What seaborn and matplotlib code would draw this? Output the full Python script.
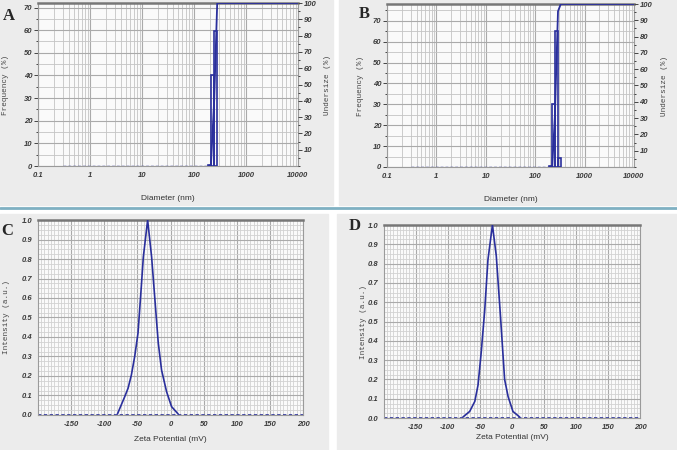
import numpy as np
import matplotlib
matplotlib.use("Agg")
import matplotlib.pyplot as plt
from matplotlib.patches import Rectangle
from matplotlib.ticker import MultipleLocator, LogLocator, NullFormatter
import seaborn as sns

# ---- data ----
# size distributions (bin edges in nm, frequency in %)
a_edges = [190, 212, 245, 280]
a_freq = [0.5, 40, 59.5]
b_edges = [195, 222, 250, 290, 330]
b_freq = [0.5, 30, 65, 4.5]
size_start = 0.3  # first size class shown by the instrument
size_ticks = [0.1, 1, 10, 100, 1000, 10000]
size_labels = ["0.1", "1", "10", "100", "1000", "10000"]

# zeta potential curves (mV, normalised intensity)
c_zeta = [-200, -80, -69, -64, -59, -54, -49, -44, -41, -34.5, -28.5, -23.5, -18.5, -13.5, -6, 1.5, 11.5, 200]
c_int = [0, 0.005, 0.094, 0.137, 0.205, 0.30, 0.42, 0.66, 0.81, 1.0, 0.81, 0.59, 0.37, 0.23, 0.12, 0.043, 0.005, 0]
d_zeta = [-200, -76.5, -66, -58, -53, -48, -42.5, -37.5, -30.5, -24.5, -18, -11.5, -6, 1.5, 12, 200]
d_int = [0, 0.005, 0.034, 0.086, 0.17, 0.34, 0.56, 0.82, 1.0, 0.84, 0.53, 0.20, 0.11, 0.034, 0.005, 0]
zeta_ticks = [-150, -100, -50, 0, 50, 100, 150, 200]

blue = "#2a2f9c"
sns.set_style("whitegrid")
plt.rcParams["font.family"] = ["Liberation Sans", "DejaVu Sans"]

fig = plt.figure(figsize=(6.77, 4.5), dpi=100)
fig.patch.set_facecolor("white")
# grey panel backgrounds and the separator line
for x0, y0, w, h in [(0, 0.545, 0.492, 0.455), (0.5, 0.545, 0.5, 0.455),
                     (0, 0, 0.484, 0.525), (0.498, 0, 0.502, 0.525)]:
    fig.patches.append(Rectangle((x0, y0), w, h, transform=fig.transFigure,
                                 color="#ececec", zorder=-10))
fig.add_artist(plt.Line2D([0, 1], [0.538, 0.538], transform=fig.transFigure,
                          color="#7fb0c2", lw=2))

tick_kw = dict(fontstyle="italic", fontweight="bold", fontsize=5.5, color="#3a3a3a")
mono = ["Liberation Mono", "DejaVu Sans Mono"]


def style_axes(ax, minor_col="#d2d2d2"):
    ax.set_facecolor("#fafafa")
    for s in ax.spines.values():
        s.set_color("#9a9a9a")
        s.set_linewidth(0.8)
    ax.spines["top"].set_color("#777777")
    ax.spines["top"].set_linewidth(1.8)
    ax.tick_params(which="both", direction="out", length=3, width=0.7,
                   color="#444444", pad=1)
    ax.tick_params(which="minor", length=1.5)
    ax.grid(which="major", color="#aaaaaa", lw=0.8)
    ax.grid(which="minor", color=minor_col, lw=0.6)


def size_panel(rect, edges, freq, ytop, letter, lx, ly, ycoords):
    ax = fig.add_axes(rect)
    ax.set_xscale("log")
    style_axes(ax, minor_col="#c4c4c4")
    ax.set_xlim(0.1, 10000)
    ax.set_ylim(0, ytop)
    ax.xaxis.set_minor_locator(LogLocator(base=10, subs=np.arange(2, 10)))
    ax.xaxis.set_minor_formatter(NullFormatter())
    ax.set_xticks(size_ticks, size_labels, **tick_kw)
    yt = list(range(0, int(ytop) // 10 * 10 + 1, 10))
    ax.set_yticks(yt, [str(v) for v in yt], **tick_kw)
    ax.yaxis.set_minor_locator(MultipleLocator(5))
    ax.bar(edges[:-1], freq, width=np.diff(edges), align="edge", fill=False,
           edgecolor=blue, lw=1.2, zorder=3)
    sns.lineplot(x=[size_start, edges[0]], y=[0, 0], ax=ax, color=blue,
                 lw=1, linestyle=(0, (2, 1.5)), zorder=3)
    # cumulative undersize on the right axis
    cum = np.concatenate([[0], np.cumsum(freq)])
    cum = np.clip(cum / cum[-1] * 100, 0, 100)
    ax2 = ax.twinx()
    ax2.set_ylim(0, 100)
    ax2.grid(False)
    for s in ax2.spines.values():
        s.set_visible(False)
    ax2.set_yticks(range(10, 101, 10), [str(v) for v in range(10, 101, 10)], **tick_kw)
    ax2.yaxis.set_minor_locator(MultipleLocator(5))
    ax2.tick_params(which="both", direction="out", length=3, width=0.7,
                    color="#444444", pad=1)
    ax2.tick_params(which="minor", length=1.5)
    sns.lineplot(x=list(edges) + [10000], y=list(cum) + [100], ax=ax2,
                 color=blue, lw=1.3, sort=False, estimator=None)
    ax.set_xlabel("Diameter (nm)", fontsize=6, color="#333333")
    ax.xaxis.set_label_coords(0.5, ycoords[0])
    ax.set_ylabel("Frequency (%)", fontsize=5.5, family=mono, color="#444444")
    ax.yaxis.set_label_coords(ycoords[1], 0.5)
    ax2.set_ylabel("Undersize (%)", fontsize=5.5, family=mono, color="#444444",
                   rotation=90, va="center")
    ax2.yaxis.set_label_coords(ycoords[2], 0.5)
    fig.text(lx, ly, letter, family=["Liberation Serif"], fontweight="bold",
             fontsize=12, ha="center", va="center")


def zeta_panel(rect, zeta, inten, letter, lx, ly, ycoords):
    ax = fig.add_axes(rect)
    style_axes(ax)
    ax.set_xlim(-200, 200)
    ax.set_ylim(0, 1.0)
    ax.set_xticks(zeta_ticks, [str(v) for v in zeta_ticks], **tick_kw)
    ax.xaxis.set_minor_locator(MultipleLocator(5))
    yt = np.round(np.arange(0, 1.01, 0.1), 1)
    ax.set_yticks(yt, ["%.1f" % v for v in yt], **tick_kw)
    ax.yaxis.set_minor_locator(MultipleLocator(0.025))
    ax.tick_params(axis="x", which="minor", length=0)
    ax.tick_params(axis="y", which="minor", length=0)
    sns.lineplot(x=zeta[1:-1], y=inten[1:-1], ax=ax, color=blue, lw=1.2,
                 sort=False, estimator=None, zorder=3)
    sns.lineplot(x=[zeta[0], zeta[-1]], y=[0, 0], ax=ax, color=blue, lw=1.2,
                 linestyle=(0, (2, 1.5)), zorder=2)
    ax.set_xlabel("Zeta Potential (mV)", fontsize=6, color="#333333")
    ax.xaxis.set_label_coords(0.5, ycoords[0])
    ax.set_ylabel("Intensity (a.u.)", fontsize=5.5, family=mono, color="#444444")
    ax.yaxis.set_label_coords(ycoords[1], 0.5)
    fig.text(lx, ly, letter, family=["Liberation Serif"], fontweight="bold",
             fontsize=12, ha="center", va="center")


size_panel([0.0561, 0.6311, 0.3840, 0.3622], a_edges, a_freq, 72, "A",
           9 / 677, 1 - 15.5 / 450, (-0.18, -0.113, 1.115))
size_panel([0.5716, 0.6289, 0.3648, 0.3622], b_edges, b_freq, 78, "B",
           364 / 677, 1 - 14 / 450, (-0.178, -0.091, 1.123))
zeta_panel([0.0558, 0.0778, 0.3922, 0.4333], c_zeta, c_int, "C",
           7.5 / 677, 1 - 231 / 450, (-0.108, -0.103))
zeta_panel([0.5669, 0.0711, 0.3787, 0.4289], d_zeta, d_int, "D",
           355 / 677, 1 - 226 / 450, (-0.083, -0.064))

fig.savefig("out.png", dpi=100)
